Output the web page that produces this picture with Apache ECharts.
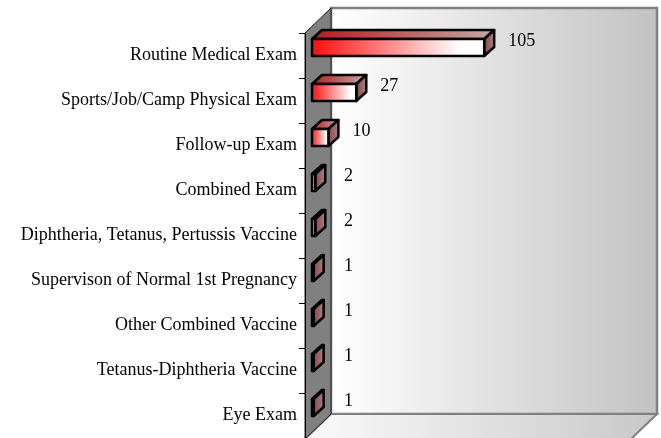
<!DOCTYPE html>
<html>
<head>
<meta charset="utf-8">
<title>Visits</title>
<script src="https://cdn.jsdelivr.net/npm/echarts@6/dist/echarts.min.js"></script>
<style>
    html, body { margin: 0; padding: 0; background: #fff; }
    .chart { width: 661px; height: 438px; }
</style>
</head>
<body>
<div class="chart"></div>
<script>
// 类别和数值
var categories = [
    'Routine Medical Exam',
    'Sports/Job/Camp Physical Exam',
    'Follow-up Exam',
    'Combined Exam',
    'Diphtheria, Tetanus, Pertussis Vaccine',
    'Supervison of Normal 1st Pregnancy',
    'Other Combined Vaccine',
    'Tetanus-Diphtheria Vaccine',
    'Eye Exam'
];
var values = [105, 27, 10, 2, 2, 1, 1, 1, 1];
var valueMax = 200;

var chart = echarts.init(document.querySelector('.chart'));

// 柱子离前平面的偏移 (3D 效果)
var OX = 7, OY = -8;
// 柱子本身的深度
var DX = 10, DY = -9;

function renderBar(params, api) {
    var idx = api.value(1);
    var p0 = api.coord([0, idx]);
    var p1 = api.coord([api.value(0), idx]);
    var cy = p0[1] + OY;
    var top = cy - 8.5, bottom = cy + 8.5;
    var x0 = p0[0] + OX, x1 = p1[0] + OX;
    var line = { stroke: '#000', lineWidth: 2.5, lineJoin: 'round' };
    var labelX = Math.max(x1 + DX + 14, x0 + DX + 22);
    return {
        type: 'group',
        children: [
            {
                type: 'polygon',
                shape: { points: [[x0, top], [x0 + DX, top + DY], [x1 + DX, top + DY], [x1, top]] },
                style: Object.assign({
                    fill: new echarts.graphic.LinearGradient(0, 0, 1, 0, [
                        { offset: 0, color: '#b81818' },
                        { offset: 1, color: '#c4a8a8' }
                    ])
                }, line)
            },
            {
                type: 'polygon',
                shape: { points: [[x1, top], [x1 + DX, top + DY], [x1 + DX, bottom + DY], [x1, bottom]] },
                style: Object.assign({
                    fill: new echarts.graphic.LinearGradient(0, 0, 1, 0, [
                        { offset: 0, color: '#8c3c3c' },
                        { offset: 1, color: '#a88c8c' }
                    ])
                }, line)
            },
            {
                type: 'rect',
                shape: { x: x0, y: top, width: x1 - x0, height: bottom - top },
                style: Object.assign({
                    fill: new echarts.graphic.LinearGradient(0, 0, 1, 0, [
                        { offset: 0, color: '#ff0a0a' },
                        { offset: 0.85, color: '#ffffff' },
                        { offset: 1, color: '#ffffff' }
                    ])
                }, line)
            },
            {
                type: 'text',
                style: {
                    x: labelX,
                    y: p0[1] - 14,
                    text: String(api.value(0)),
                    fill: '#000',
                    font: '18px "Liberation Serif"',
                    verticalAlign: 'middle'
                }
            }
        ]
    };
}

var option = {
    animation: false,
    backgroundColor: '#fff',
    // 墙和地板
    graphic: [
        {
            type: 'rect', z: -1,
            shape: { x: 331, y: 8, width: 326, height: 406 },
            style: {
                fill: new echarts.graphic.LinearGradient(0, 0, 1, 0, [
                    { offset: 0, color: '#ffffff' },
                    { offset: 1, color: '#c2c2c2' }
                ]),
                stroke: '#808080', lineWidth: 2.5
            }
        },
        {
            type: 'polygon', z: -1,
            shape: { points: [[305, 439], [331, 414], [657, 414], [631, 439]] },
            style: {
                fill: new echarts.graphic.LinearGradient(0, 0, 1, 0, [
                    { offset: 0, color: '#fafafa' },
                    { offset: 1, color: '#c8c8c8' }
                ]),
                stroke: '#808080', lineWidth: 2
            }
        },
        {
            type: 'polygon', z: -1,
            shape: { points: [[305, 33], [331, 8], [331, 414], [305, 439]] },
            style: { fill: '#808080', stroke: '#202020', lineWidth: 1 }
        }
    ],
    grid: { left: 305, top: 33, width: 328, height: 405 },
    xAxis: {
        type: 'value',
        min: 0,
        max: valueMax,
        show: false
    },
    yAxis: {
        type: 'category',
        inverse: true,
        data: categories,
        axisLine: { show: true, lineStyle: { color: '#000', width: 1 } },
        axisTick: { show: true, length: 6, lineStyle: { color: '#000' } },
        axisLabel: {
            margin: 8,
            color: '#000',
            fontFamily: 'Liberation Serif',
            fontSize: 18
        }
    },
    series: [{
        type: 'custom',
        renderItem: renderBar,
        clip: false,
        encode: { x: 0, y: 1 },
        data: values.map(function (v, i) { return [v, i]; })
    }]
};

chart.setOption(option);
</script>
</body>
</html>
